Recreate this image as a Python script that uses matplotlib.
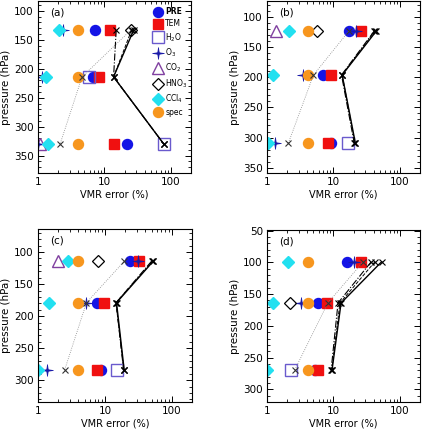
import numpy as np
import matplotlib
matplotlib.use("Agg")
import matplotlib.pyplot as plt
from matplotlib.path import Path
from matplotlib.ticker import MultipleLocator, FixedLocator, NullFormatter, LogLocator

nan = np.nan
panel_labels = ["(a)", "(b)", "(c)", "(d)"]

# pressures (hPa) for each panel
pres = [[133, 214, 330], [123, 196, 309], [114, 179, 284], [99, 164, 270]]

# VMR error (%) per species, per panel
PRE  = [[7.3, 6.8, 22], [17, 6.9, 9.2], [23.6, 7.5, 8.7], [16, 5.8, 5.3]]
TEM  = [[11.9, 8.4, 13.7], [26, 9.2, 8.3], [32, 9.8, 7.5], [26, 8.0, 5.8]]
H2O  = [[nan, 5.9, 78], [nan, nan, 16.6], [nan, nan, 15], [nan, nan, 2.3]]
O3   = [[2.4, 1.15, 1.0], [22, 3.5, 1.33], [31, 5.3, 1.36], [20, 3.2, nan]]
CO2  = [[nan, nan, 1.07], [1.37, nan, nan], [2.0, nan, nan], [nan, nan, nan]]
HNO3 = [[25, nan, nan], [5.6, nan, nan], [7.9, nan, nan], [nan, 2.2, nan]]
CCl4 = [[2.1, 1.3, 1.4], [2.17, 1.24, 1.03], [2.8, 1.47, 1.0], [2.1, 1.24, 1.0]]
spec = [[4.0, 4.0, 4.0], [4.1, 4.1, 4.1], [4.0, 4.0, 4.0], [4.1, 4.1, 4.1]]

# total error lines
tot_solid   = [[27.5, 13.7, 78], [44, 13.5, 21.3], [53, 14.9, 19.4], [53, 13, 9.5]]
tot_dashed  = [[25.6, 13.7, 78], [42, 13.5, 21], [52, 14.6, 19.2], [42, 12.5, 9.4]]
tot_dashdot = [[15, 13.7, 78], [41, 13.2, 20.5], [50, 14.7, 19], [37, 11.7, 9.2]]
tot_dotted  = [[25, 4.6, 2.15], [17, 5.0, 2.1], [19.6, 5.3, 2.5], [28, 8.2, 2.6]]

# thin four-pointed star marker
r_in = 0.18
verts = []
for k in range(8):
    ang = np.pi / 2 + k * np.pi / 4
    r = 1.0 if k % 2 == 0 else r_in
    verts.append((r * np.cos(ang), r * np.sin(ang)))
verts.append(verts[0])
star4 = Path(verts, [Path.MOVETO] + [Path.LINETO] * 7 + [Path.CLOSEPOLY])

species = [
    ("PRE", PRE, dict(marker="o", color="#1414e6", ms=7.2, mec="#1414e6")),
    ("TEM", TEM, dict(marker="s", color="#f01010", ms=7.2, mec="#f01010")),
    ("H$_2$O", H2O, dict(marker="s", mfc="none", mec="#6a5acd", ms=8.2, mew=1.0)),
    ("O$_3$", O3, dict(marker=star4, color="#1a1aa8", ms=8.5, mec="#1a1aa8", mew=0.5)),
    ("CO$_2$", CO2, dict(marker="^", mfc="none", mec="#8040a0", ms=8, mew=1.0)),
    ("HNO$_3$", HNO3, dict(marker="D", mfc="none", mec="black", ms=6.3, mew=0.9)),
    ("CCl$_4$", CCl4, dict(marker="D", color="#22e0f0", ms=5.8, mec="#22e0f0")),
    ("spec", spec, dict(marker="o", color="#f7961e", ms=7.2, mec="#f7961e")),
]

fig = plt.figure(figsize=(4.27, 4.33), dpi=100)
W, H = 427.0, 433.0
boxes = [(38, 1, 191, 173), (267, 1, 420, 173), (38, 229, 192, 402), (267, 230, 420, 402)]

for i in range(4):
    x0, y0, x1, y1 = boxes[i]
    ax = fig.add_axes([x0 / W, 1 - y1 / H, (x1 - x0) / W, (y1 - y0) / H])
    p = pres[i]
    for name, data, st in species:
        ax.plot(data[i], p, ls="none", label=name, **st)
    ax.plot(tot_dotted[i], p, ls=":", color="#888888", lw=0.6, marker="x", ms=4.5, mec="#333333", mew=0.8)
    ax.plot(tot_dashdot[i], p, ls="-.", color="black", lw=0.8, marker="x", ms=4.5, mew=0.8)
    ax.plot(tot_dashed[i], p, ls="--", color="black", lw=0.7, marker="x", ms=4.5, mew=0.8)
    ax.plot(tot_solid[i], p, ls="-", color="black", lw=1.0, marker="x", ms=4.5, mew=0.8)

    ax.set_xscale("log")
    ax.set_xlim(1, 200)
    ax.set_ylim(max(p) + 50, min(p) - 50)
    ax.xaxis.set_major_locator(FixedLocator([1, 10, 100]))
    ax.set_xticklabels(["1", "10", "100"])
    ax.xaxis.set_minor_locator(LogLocator(base=10, subs=np.arange(2, 10)))
    ax.xaxis.set_minor_formatter(NullFormatter())
    ax.yaxis.set_major_locator(MultipleLocator(50))
    ax.yaxis.set_minor_locator(MultipleLocator(10))
    ax.tick_params(which="both", direction="in", top=True, right=True, labelsize=7.5, pad=3)
    ax.tick_params(which="major", length=4, width=0.7)
    ax.tick_params(which="minor", length=2, width=0.6)
    for s in ax.spines.values():
        s.set_linewidth(0.8)
    ax.set_xlabel("VMR error (%)", fontsize=7, labelpad=2)
    ax.set_ylabel("pressure (hPa)", fontsize=7.5, labelpad=2)
    ax.text(0.08, 0.96, panel_labels[i], transform=ax.transAxes, fontsize=7.5, va="top", ha="left")

    if i == 0:
        leg = ax.legend(loc="upper right", bbox_to_anchor=(1.01, 0.99), frameon=False,
                        fontsize=5.5, handletextpad=0.5, labelspacing=0.38,
                        handlelength=1.0, borderaxespad=0.2, numpoints=1)
        leg.get_texts()[0].set_fontweight("bold")

fig.savefig("out.png", dpi=100)
